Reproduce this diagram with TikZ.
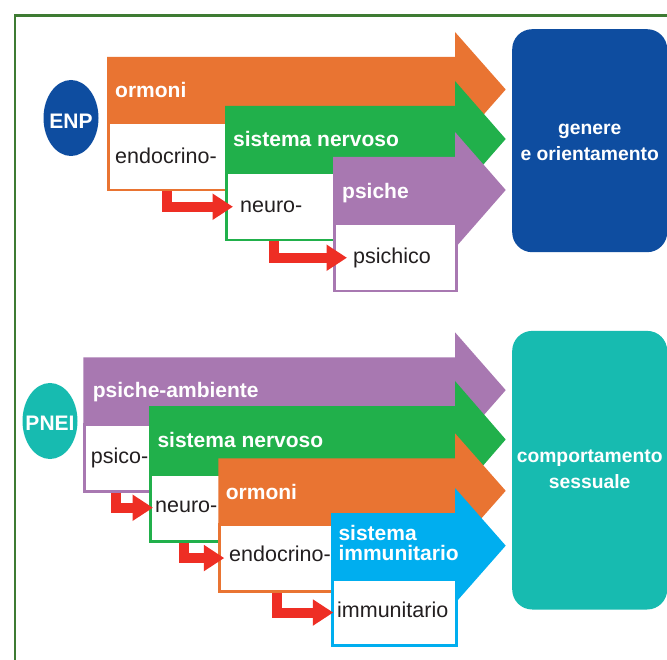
\documentclass[tikz,border=0pt]{standalone}
\usepackage{fontspec}
\setmainfont{Liberation Sans}
\usetikzlibrary{arrows.meta,shapes.geometric}
\definecolor{cOr}{HTML}{E97432}
\definecolor{cGr}{HTML}{21B04B}
\definecolor{cPu}{HTML}{A878B1}
\definecolor{cBl}{HTML}{00AEEF}
\definecolor{cNavy}{HTML}{0E4DA0}
\definecolor{cTeal}{HTML}{17BBB0}
\definecolor{cRed}{HTML}{EE2E24}
\definecolor{cFrame}{HTML}{3E7B33}
\definecolor{cTxt}{HTML}{231F20}
\newcommand\bigarrowshape[4]{%
  \fill[#1] (#2,#3) -- (455,#3) -- (455,{#3-25}) -- (505.7,{(#3+#4)/2}) -- (455,{#4+25}) -- (455,#4) -- (#2,#4) -- cycle;}
\begin{document}
\begin{tikzpicture}[x=1pt,y=-1pt,
  hdr/.style={text=white, font=\fontsize{21}{21}\selectfont\bfseries, anchor=base west, inner sep=0pt},
  lbl/.style={text=cTxt, font=\fontsize{21.5}{24}\selectfont, anchor=base west, inner sep=0pt},
  wbox/.style={draw=#1, line width=2.5pt, fill=white, anchor=north west, minimum height=67pt, inner sep=0pt},
  redarrow/.style={draw=cRed, line width=10pt, -{Triangle[length=20.5pt,width=25pt]}, line join=miter},
  bigbox/.style={fill=#1, rounded corners=20pt, anchor=north west, minimum width=155pt, inner sep=0pt,
    text=white, align=center, font=\fontsize{19.3}{26}\selectfont\bfseries},
  badge/.style={ellipse, fill=#1, minimum width=55pt, minimum height=76pt, inner sep=0pt},
  badgetext/.style={text=white, font=\fontsize{21}{21}\selectfont\bfseries, inner sep=0pt}]
\useasboundingbox (0,0) rectangle (667,660);
\clip (0,0) rectangle (667,660);
\fill[white] (0,0) rectangle (667,660);
% frame
\draw[cFrame, line width=2.8pt] (15,680) -- (15,15.5) -- (700,15.5);

% ===== top group =====
\node[badge=cNavy] (enp) at (71,118) {};
\node[badgetext] (enpT) at (71,121) {ENP};

\bigarrowshape{cOr}{107}{57}{122}
\node[wbox=cOr, minimum width=348pt] (b1) at (107,122) {};
\node[hdr] (h1) at (115,97.3) {ormoni};
\node[lbl] (t1) at (115,163.3) {endocrino-};

\bigarrowshape{cGr}{225}{106}{172}
\node[wbox=cGr, minimum width=230pt] (b2) at (225,172) {};
\node[hdr] (h2) at (233,146.7) {sistema nervoso};
\node[lbl] (t2) at (240,212.3) {neuro-};

\bigarrowshape{cPu}{333}{157}{223}
\node[wbox=cPu, minimum width=122pt] (b3) at (333,223) {};
\node[hdr] (h3) at (342,198.3) {psiche};
\node[lbl] (t3) at (353,263.3) {psichico};

\draw[redarrow] ([xshift=60pt]b1.south west) |- ([xshift=8pt]b2.west);
\draw[redarrow] ([xshift=49pt]b2.south west) |- ([xshift=14pt]b3.west);

\node[bigbox=cNavy, minimum height=223pt] (r1) at (512,29) {};
\node[bigbox=cNavy, fill=none, anchor=center] (r1T) at ([yshift=-2pt]r1.center) {genere\\e orientamento};

% ===== bottom group =====
\node[badge=cTeal] (pnei) at (50,421) {};
\node[badgetext] (pneiT) at (50,423.7) {PNEI};

\bigarrowshape{cPu}{83.3}{357.3}{423}
\node[wbox=cPu, minimum width=371.7pt] (c1) at (83.3,423) {};
\node[hdr] (k1) at (92.7,397.3) {psiche-ambiente};
\node[lbl] (s1) at (90.7,463.3) {psico-};

\bigarrowshape{cGr}{149}{406}{473}
\node[wbox=cGr, minimum width=306pt] (c2) at (149,473) {};
\node[hdr] (k2) at (157.3,447.7) {sistema nervoso};
\node[lbl] (s2) at (155,512.7) {neuro-};

\bigarrowshape{cOr}{218.3}{458.3}{523.3}
\node[wbox=cOr, minimum width=236.7pt] (c3) at (218.3,523.3) {};
\node[hdr] (k3) at (225.7,499) {ormoni};
\node[lbl] (s3) at (229,561.7) {endocrino-};

\bigarrowshape{cBl}{331}{513}{578.3}
\node[wbox=cBl, minimum width=124pt, minimum height=66pt] (c4) at (331,578.3) {};
\node[hdr] (k4) at (338.3,540) {sistema};
\node[hdr] (k4b) at (338.3,560.7) {immunitario};
\node[lbl] (s4) at (337,617.7) {immunitario};

\draw[redarrow] ([xshift=33pt]c1.south west) |- ([xshift=4pt]c2.west);
\draw[redarrow] ([xshift=35pt]c2.south west) |- ([xshift=6pt]c3.west);
\draw[redarrow] ([xshift=58.4pt]c3.south west) |- ([xshift=2.3pt]c4.west);

\node[bigbox=cTeal, minimum height=278.6pt] (r2) at (512,330.7) {};
\node[bigbox=cTeal, fill=none, anchor=center] (r2T) at ([yshift=1pt]r2.center) {comportamento\\sessuale};
\end{tikzpicture}
\end{document}
